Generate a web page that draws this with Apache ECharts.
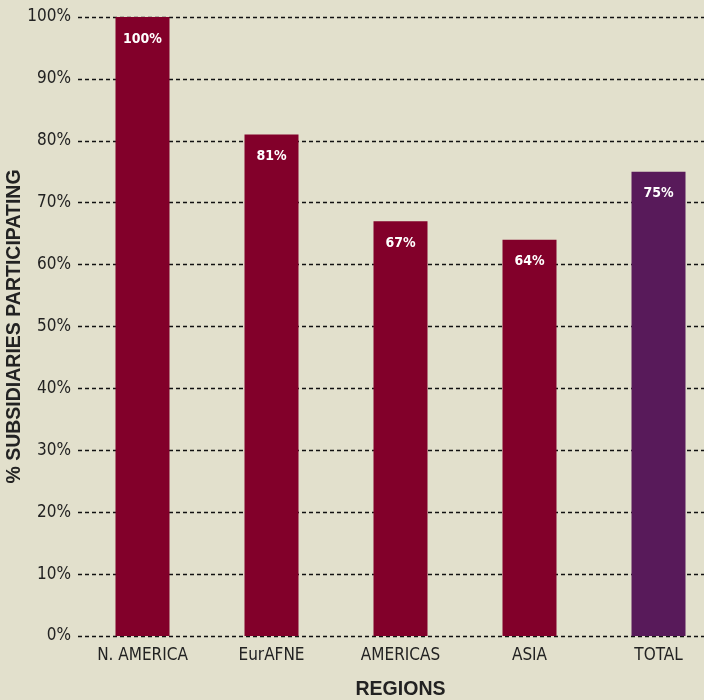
<!DOCTYPE html>
<html><head><meta charset="utf-8">
<script src="https://cdn.jsdelivr.net/npm/echarts@6/dist/echarts.min.js"></script>
<style>html,body{margin:0;padding:0;background:#e2e0cc;}#c{width:704px;height:700px;}</style>
</head><body><div id="c"></div>
<script>
const categories = ["N. AMERICA", "EurAFNE", "AMERICAS", "ASIA", "TOTAL"];
const values = [100, 81, 67, 64, 75];
const barColors = ["#82002a", "#82002a", "#82002a", "#82002a", "#581a5a"];
const FONT = "'Liberation Sans Narrow', 'DejaVu Sans Condensed', 'Roboto', sans-serif";
const chart = echarts.init(document.getElementById('c'), null, {renderer: 'canvas'});
chart.setOption({
  backgroundColor: '#e2e0cc',
  animation: false,
  grid: {left: 78, top: 17, right: -19, bottom: 64, containLabel: false, outerBoundsMode: 'none'},
  xAxis: {
    type: 'category', data: categories,
    axisLine: {show: false}, axisTick: {show: false},
    axisLabel: {color: '#222', fontFamily: FONT, fontSize: 17, margin: 11},
    name: 'REGIONS', nameLocation: 'middle', nameGap: 44,
    nameTextStyle: {color: '#222', fontFamily: "'Liberation Sans', Arial, sans-serif", fontWeight: 'bold', fontSize: 19.5}
  },
  yAxis: {
    type: 'value', min: 0, max: 100, interval: 10,
    axisLine: {show: false}, axisTick: {show: false},
    axisLabel: {color: '#222', fontFamily: FONT, fontSize: 17, margin: 7, formatter: '{value}%'},
    splitLine: {show: true, lineStyle: {color: '#111', type: [4, 3], width: 1.3}},
    name: '% SUBSIDIARIES PARTICIPATING', nameLocation: 'middle', nameGap: 53, nameRotate: 90,
    nameMoveOverlap: false,
    nameTextStyle: {color: '#222', fontFamily: "'Liberation Sans', Arial, sans-serif", fontWeight: 'bold', fontSize: 19.5}
  },
  series: [{
    type: 'bar', barWidth: 54,
    data: values.map((v, i) => ({value: v, itemStyle: {color: barColors[i]}})),
    label: {show: true, position: 'insideTop', distance: 15, color: '#fff', fontWeight: 'bold',
      fontFamily: FONT, fontSize: 14, formatter: '{c}%'}
  }]
});
</script></body></html>
